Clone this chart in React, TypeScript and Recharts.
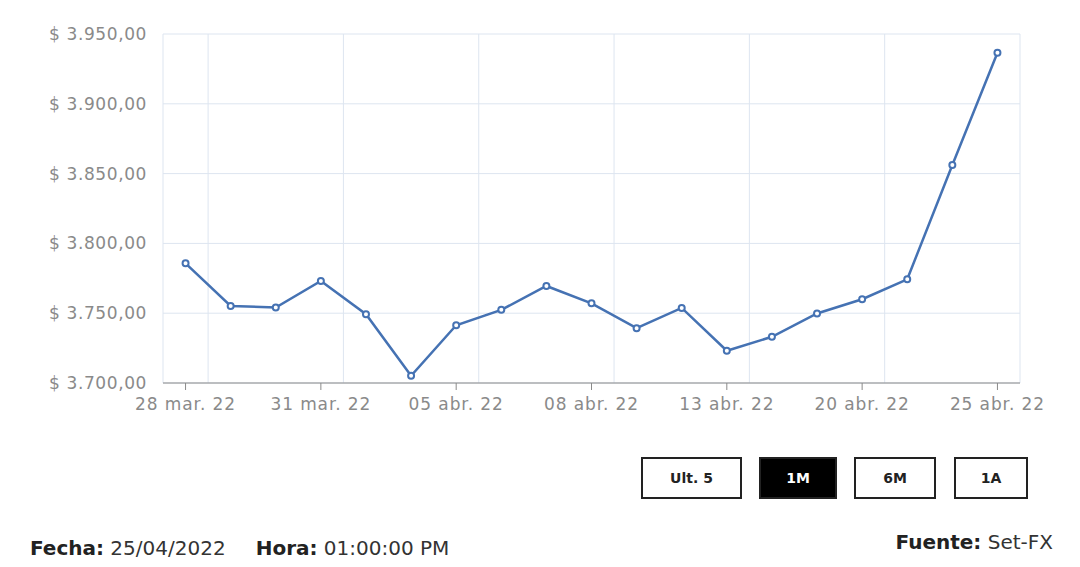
import { CartesianGrid, Line, LineChart, XAxis, YAxis } from "recharts";

const DATES = [
  "28 mar. 22", "29 mar. 22", "30 mar. 22", "31 mar. 22", "01 abr. 22",
  "04 abr. 22", "05 abr. 22", "06 abr. 22", "07 abr. 22", "08 abr. 22",
  "11 abr. 22", "12 abr. 22", "13 abr. 22", "18 abr. 22", "19 abr. 22",
  "20 abr. 22", "21 abr. 22", "22 abr. 22", "25 abr. 22",
];

const RATES = [
  3785.7, 3755.2, 3754.1, 3773.1, 3749.3, 3705.2, 3741.4, 3752.4, 3769.5,
  3757.1, 3739.3, 3753.8, 3723.1, 3733.1, 3749.8, 3760.0, 3774.3, 3856.2,
  3936.6,
];

const Y_TICKS = [3700, 3750, 3800, 3850, 3900, 3950];
const LABEL_TICKS = [0, 3, 6, 9, 12, 15, 18];
const GRID_TICKS = [-0.5, 0.5, 3.5, 6.5, 9.5, 12.5, 15.5, 18.5];
const RANGES = ["Ult. 5", "1M", "6M", "1A"];

const data = DATES.map((d, i) => ({ idx: i, date: d, rate: RATES[i] }));

const FONT = "'DejaVu Sans', sans-serif";
const BLUE = "#4572b3";

function money(v: number) {
  const [int, dec] = v.toFixed(2).split(".");
  const grouped = int.replace(/\B(?=(\d{3})+(?!\d))/g, ".");
  return `$ ${grouped},${dec}`;
}

export default function App() {
  return (
    <div
      style={{
        position: "relative",
        width: 1080,
        height: 567,
        background: "#fff",
        fontFamily: FONT,
        overflow: "hidden",
      }}
    >
      <style>{`body{margin:0}`}</style>
      <LineChart
        width={1080}
        height={440}
        data={data}
        margin={{ top: 34, right: 60, left: 0, bottom: 27 }}
      >
        <CartesianGrid stroke="#dde5f0" xAxisId="grid" />
        <XAxis
          xAxisId="grid"
          type="number"
          dataKey="idx"
          domain={[-0.5, 18.5]}
          ticks={GRID_TICKS}
          height={0}
          hide
        />
        <XAxis
          xAxisId="main"
          type="number"
          dataKey="idx"
          domain={[-0.5, 18.5]}
          ticks={LABEL_TICKS}
          tickFormatter={(i: number) => DATES[i] ?? ""}
          height={30}
          tickSize={7}
          tickMargin={8}
          axisLine={{ stroke: "#8a8a8a" }}
          tickLine={{ stroke: "#8a8a8a" }}
          tick={{ fill: "#8a8a8a", fontSize: 17, fontFamily: FONT, letterSpacing: 0.9 }}
        />
        <YAxis
          domain={[3700, 3950]}
          ticks={Y_TICKS}
          tickFormatter={money}
          width={163}
          axisLine={false}
          tickLine={false}
          tickMargin={10}
          tick={{ fill: "#8a8a8a", fontSize: 17, fontFamily: FONT, letterSpacing: 0.6 }}
        />
        <Line
          xAxisId="main"
          type="linear"
          dataKey="rate"
          stroke={BLUE}
          strokeWidth={2.5}
          dot={{ r: 3, fill: "#fff", stroke: BLUE, strokeWidth: 2 }}
          isAnimationActive={false}
        />
      </LineChart>

      {RANGES.map((r, i) => {
        const lefts = [641, 759, 854, 954];
        const widths = [101, 78, 82, 74];
        const active = r === "1M";
        return (
          <div
            key={r}
            style={{
              position: "absolute",
              left: lefts[i],
              top: 457,
              width: widths[i],
              height: 42,
              boxSizing: "border-box",
              border: "2px solid #222",
              background: active ? "#000" : "#fff",
              color: active ? "#fff" : "#222",
              fontWeight: 700,
              fontSize: 14,
              display: "flex",
              alignItems: "center",
              justifyContent: "center",
            }}
          >
            {r}
          </div>
        );
      })}

      <div
        style={{
          position: "absolute",
          left: 30,
          top: 536,
          fontSize: 20,
          color: "#333",
          whiteSpace: "nowrap",
        }}
      >
        <b style={{ color: "#222" }}>Fecha:</b> 25/04/2022
        <span style={{ marginLeft: 30 }}>
          <b style={{ color: "#222" }}>Hora:</b> 01:00:00 PM
        </span>
      </div>

      <div
        style={{
          position: "absolute",
          right: 27,
          top: 530,
          fontSize: 20,
          color: "#333",
          whiteSpace: "nowrap",
        }}
      >
        <b style={{ color: "#222" }}>Fuente:</b> Set-FX
      </div>
    </div>
  );
}
